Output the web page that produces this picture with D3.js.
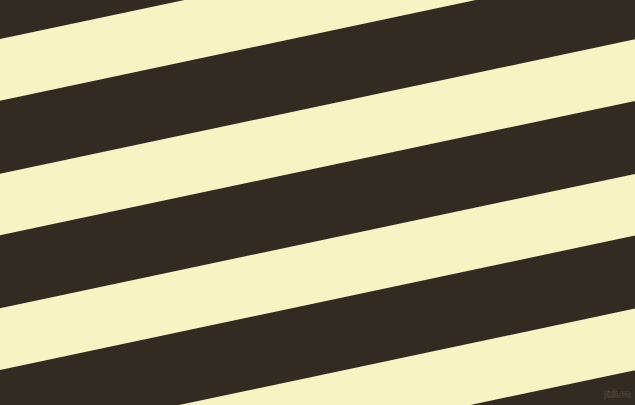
<!DOCTYPE html>
<html>
<head>
<meta charset="utf-8">
<script src="https://cdn.jsdelivr.net/npm/d3@7"></script>
<style>
  html, body { margin: 0; padding: 0; background: #322b22; overflow: hidden; }
  svg { display: block; }
</style>
</head>
<body>
<div id="root"></div>
<script>
const W = 635;
const H = 405;

// stripe data: index of each light band, and the two colours
const bandIndex = [-2, -1, 0, 1, 2, 3, 4, 5];
const bandColors = ['#322b22', '#f7f4c4'];
const angleDeg = 11.95;
const watermark = 'pixlis.com';

const svg = d3.select('#root').append('svg')
  .attr('width', W)
  .attr('height', H);

svg.append('rect')
  .attr('width', W)
  .attr('height', H)
  .attr('fill', bandColors[0]);

// band index -> perpendicular offset of its top edge
const offset = d3.scaleLinear().domain([0, 1]).range([38.2, 169.9]);
const bandWidth = 60.3;

const g = svg.append('g')
  .attr('transform', `rotate(${-angleDeg})`);

g.selectAll('rect.band')
  .data(bandIndex)
  .enter()
  .append('rect')
  .attr('class', 'band')
  .attr('x', -600)
  .attr('width', 1800)
  .attr('y', d => offset(d))
  .attr('height', bandWidth)
  .attr('fill', bandColors[1]);

svg.append('text')
  .attr('x', 604)
  .attr('y', 397)
  .attr('textLength', 27)
  .attr('lengthAdjust', 'spacingAndGlyphs')
  .attr('font-family', 'DejaVu Sans, sans-serif')
  .attr('font-size', 8)
  .attr('fill', '#1f1a14')
  .attr('stroke', '#5e5645')
  .attr('stroke-width', 0.9)
  .attr('paint-order', 'stroke')
  .text(watermark);
</script>
</body>
</html>
